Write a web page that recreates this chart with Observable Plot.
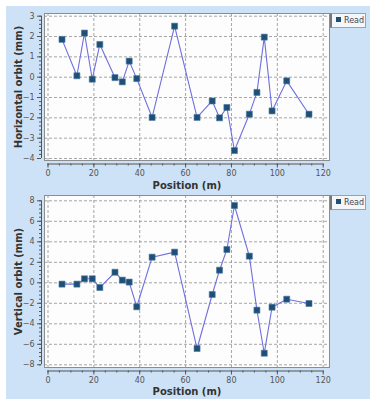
<!DOCTYPE html>
<html><head><meta charset="utf-8">
<script src="https://cdn.jsdelivr.net/npm/d3@7"></script>
<script src="https://cdn.jsdelivr.net/npm/@observablehq/plot@0.6"></script>
<style>
html,body{margin:0;padding:0;background:#fff;}
#wrap{position:relative;width:370px;height:399px;overflow:hidden;background:#fff;font-family:"DejaVu Sans",sans-serif;}
#bg{position:absolute;left:6px;top:6px;right:0;bottom:0;background:#cde2f7;}
.panel{position:absolute;left:0;}
.legend{position:absolute;left:330px;width:33px;height:13px;border:1px solid #9aa3ad;border-left:2px solid #777;background:#f3f6fa;font-size:8px;color:#445;line-height:13px;white-space:nowrap;}
.legend .sw{display:inline-block;width:5px;height:5px;background:#1d4f77;margin:0 3px 0 4px;vertical-align:1px;}
</style></head><body>
<div id="wrap"><div id="bg"></div></div>
<script>
const seriesName = "Read";
const xLabel = "Position (m)";
const hLabel = "Horizontal orbit (mm)";
const vLabel = "Vertical orbit (mm)";
const positions = [6.1, 12.6, 15.9, 19.3, 22.6, 29.2, 32.4, 35.4, 38.7, 45.4, 55.2, 65.0, 71.6, 74.8, 78.0, 81.3, 87.8, 91.1, 94.3, 97.7, 104.1, 113.8];
const horizontal = [1.86, 0.07, 2.17, -0.10, 1.61, -0.02, -0.23, 0.79, -0.07, -1.98, 2.51, -1.98, -1.17, -2.00, -1.49, -3.61, -1.82, -0.75, 1.97, -1.66, -0.18, -1.82];
const vertical = [-0.13, -0.13, 0.39, 0.39, -0.46, 1.03, 0.26, 0.07, -2.34, 2.50, 2.99, -6.41, -1.14, 1.23, 3.25, 7.54, 2.60, -2.67, -6.87, -2.38, -1.60, -2.02];
const xTicks = [0, 20, 40, 60, 80, 100, 120];
const xMinor = d3.range(0, 121, 5);
const hTicks = [-4, -3, -2, -1, 0, 1, 2, 3];
const hMinor = d3.range(-4, 3.001, 0.2);
const vTicks = [-8, -6, -4, -2, 0, 2, 4, 6, 8];
const vMinor = d3.range(-8, 8.001, 0.4);

const wrap = document.getElementById("wrap");

function panel(cfg) {
  const data = positions.map((p, i) => ({x: p, y: cfg.values[i]}));
  const tickFill = "#555";
  const chart = Plot.plot({
    width: 370,
    height: cfg.height,
    marginLeft: 44,
    marginRight: 41,
    marginTop: cfg.mt,
    marginBottom: cfg.mb,
    style: {background: "transparent", fontFamily: "DejaVu Sans, sans-serif", fontSize: "8px", overflow: "visible"},
    x: {domain: [0, 120], range: [47.5, 322.7]},
    y: {domain: cfg.domain, range: cfg.range},
    marks: [
      Plot.frame({fill: "#fdfdfd", stroke: null}),
      Plot.gridX(xTicks, {stroke: "#8f8f8f", strokeOpacity: 1, strokeDasharray: "3,2", strokeWidth: 0.8}),
      Plot.gridY(cfg.ticks, {stroke: "#8f8f8f", strokeOpacity: 1, strokeDasharray: "3,2", strokeWidth: 0.8}),
      Plot.frame({stroke: "#8c8c8c", strokeWidth: 1}),
      // axes
      Plot.ruleY([cfg.domain[0]], {x1: 0, x2: 120, dy: cfg.axDy, stroke: "#555"}),
      Plot.axisX(xMinor, {anchor: "bottom", tickSize: 2, text: null, dy: cfg.axOff, stroke: "#555", label: null}),
      Plot.axisX(xTicks, {anchor: "bottom", tickSize: 4, tickPadding: 2, dy: cfg.axOff, stroke: "#555", fill: tickFill, label: null}),
      Plot.ruleX([0], {y1: cfg.domain[0], y2: cfg.domain[1], dx: -6.5, stroke: "#555"}),
      Plot.axisY(cfg.minor, {anchor: "left", tickSize: 2, text: null, dx: -3, stroke: "#555", label: null}),
      Plot.axisY(cfg.ticks, {anchor: "left", tickSize: 4, tickPadding: 3, dx: -3, stroke: "#555", fill: tickFill, label: null}),
      // labels
      Plot.text([xLabel], {frameAnchor: "bottom", textAnchor: "middle", lineAnchor: "middle", dy: cfg.xlDy, fontWeight: "bold", fontSize: 10, fill: "#333"}),
      Plot.text([cfg.label], {frameAnchor: "left", textAnchor: "middle", lineAnchor: "middle", rotate: -90, dx: -26, fontWeight: "bold", fontSize: 10, fill: "#333"}),
      // data
      Plot.line(data, {x: "x", y: "y", stroke: "#6f6fe0", strokeWidth: 1.1}),
      Plot.dot(data, {x: "x", y: "y", symbol: "square", r: 3.4, fill: "#1d4f77", stroke: "#4d79a3", strokeWidth: 0.6})
    ]
  });
  const holder = document.createElement("div");
  holder.className = "panel";
  holder.style.top = cfg.top + "px";
  holder.appendChild(chart);
  wrap.appendChild(holder);
  const lg = document.createElement("div");
  lg.className = "legend";
  lg.style.top = cfg.legendTop + "px";
  lg.innerHTML = '<span class="sw"></span>' + seriesName;
  wrap.appendChild(lg);
}

panel({top: 0, height: 190, mt: 13, mb: 30, domain: [-4, 3], range: [158, 15.7],
  ticks: hTicks, minor: hMinor, values: horizontal, label: hLabel, axOff: 3.5, axDy: 5.5, xlDy: 25, legendTop: 13});
panel({top: 190, height: 209, mt: 5, mb: 32, domain: [-8, 8], range: [174.3, 10.3],
  ticks: vTicks, minor: vMinor, values: vertical, label: vLabel, axOff: 3.5, axDy: 6.2, xlDy: 24, legendTop: 195});
</script>
</body></html>
